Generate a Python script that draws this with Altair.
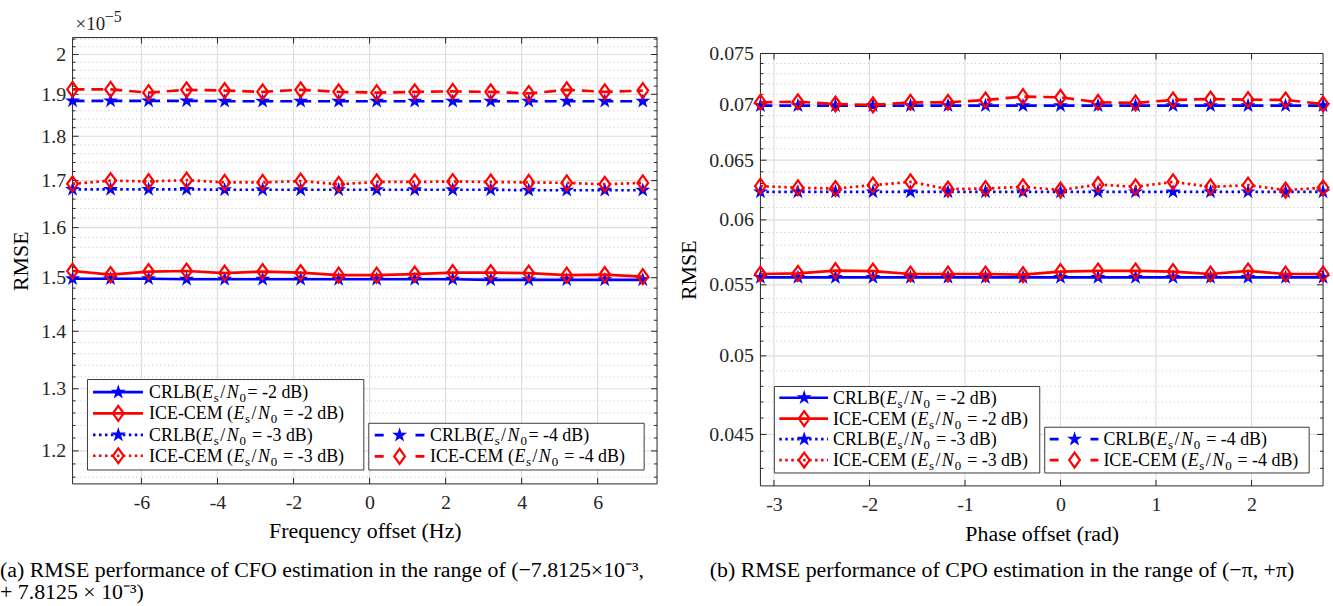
import altair as alt
import pandas as pd

FONT = "Liberation Serif"
INK = "#262626"
BLUE = "#0000ff"
RED = "#ff0000"

# ---------------- data ----------------
freq_offset = [-7.8125, -6.8125, -5.8125, -4.8125, -3.8125, -2.8125, -1.8125, -0.8125,
               0.1875, 1.1875, 2.1875, 3.1875, 4.1875, 5.1875, 6.1875, 7.1875]
phase_offset = [-3.1416, -2.7489, -2.3562, -1.9635, -1.5708, -1.1781, -0.7854, -0.3927,
                0.0, 0.3927, 0.7854, 1.1781, 1.5708, 1.9635, 2.3562, 2.7489]

# CFO estimation RMSE, in units of 1e-5
cfo_crlb_m2 = [1.498, 1.498, 1.498, 1.497, 1.497, 1.497, 1.497, 1.497,
               1.497, 1.497, 1.497, 1.496, 1.496, 1.496, 1.496, 1.496]
cfo_ice_m2 = [1.513, 1.506, 1.512, 1.513, 1.509, 1.512, 1.510, 1.505,
              1.505, 1.507, 1.510, 1.510, 1.509, 1.505, 1.506, 1.502]
cfo_crlb_m3 = [1.681, 1.681, 1.681, 1.681, 1.680, 1.680, 1.680, 1.680,
               1.680, 1.680, 1.680, 1.680, 1.679, 1.679, 1.679, 1.679]
cfo_ice_m3 = [1.693, 1.700, 1.698, 1.701, 1.696, 1.696, 1.699, 1.692,
              1.697, 1.697, 1.698, 1.697, 1.696, 1.695, 1.692, 1.695]
cfo_crlb_m4 = [1.884, 1.884, 1.884, 1.884, 1.883, 1.883, 1.883, 1.883,
               1.883, 1.883, 1.883, 1.883, 1.883, 1.883, 1.883, 1.883]
cfo_ice_m4 = [1.912, 1.912, 1.904, 1.911, 1.909, 1.906, 1.911, 1.906,
              1.904, 1.906, 1.907, 1.906, 1.902, 1.911, 1.906, 1.909]

# CPO estimation RMSE
cpo_crlb_m2 = [0.05555, 0.05555, 0.05555, 0.05555, 0.05555, 0.05555, 0.05555, 0.05555,
               0.05555, 0.05555, 0.05555, 0.05555, 0.05555, 0.05555, 0.05555, 0.05555]
cpo_ice_m2 = [0.0558, 0.05585, 0.05605, 0.05602, 0.0558, 0.0558, 0.0558, 0.05575,
              0.05598, 0.05603, 0.05603, 0.05598, 0.0558, 0.05603, 0.0558, 0.0558]
cpo_crlb_m3 = [0.0623, 0.0623, 0.0623, 0.0623, 0.0623, 0.0623, 0.0623, 0.0623,
               0.0623, 0.0623, 0.0623, 0.0623, 0.0623, 0.0623, 0.0623, 0.0623]
cpo_ice_m3 = [0.06278, 0.06264, 0.06258, 0.06286, 0.06314, 0.06253, 0.06258, 0.06272,
              0.06245, 0.06291, 0.06272, 0.06314, 0.06272, 0.06286, 0.06245, 0.06264]
cpo_crlb_m4 = [0.06993, 0.06993, 0.06993, 0.06993, 0.06993, 0.06993, 0.06993, 0.06993,
               0.06993, 0.06993, 0.06993, 0.06993, 0.06993, 0.06993, 0.06993, 0.06993]
cpo_ice_m4 = [0.07025, 0.0703, 0.07009, 0.0700, 0.07025, 0.07025, 0.07047, 0.07078,
              0.07072, 0.07025, 0.07019, 0.07047, 0.07056, 0.0705, 0.07047, 0.07009]

# axis ticks
cfo_xticks = [-6, -4, -2, 0, 2, 4, 6]
cfo_yticks = [1.2, 1.3, 1.4, 1.5, 1.6, 1.7, 1.8, 1.9, 2.0]
cpo_xticks = [-3, -2, -1, 0, 1, 2]
cpo_yticks = [0.045, 0.05, 0.055, 0.06, 0.065, 0.07, 0.075]

# ---------------- styling ----------------
STAR = ("M0,-1L0.2245,-0.309L0.951,-0.309L0.363,0.118L0.588,0.809L0,0.382"
        "L-0.588,0.809L-0.363,0.118L-0.951,-0.309L-0.2245,-0.309Z")
DIAMOND = "M0,-1L0.72,0L0,1L-0.72,0Z"
DASH = {"solid": None, "dotted": [2.5, 3.5], "dashed": [12, 7]}
LEG_DASH = {"solid": None, "dotted": [2.5, 3.5], "dashed": [9, 32]}
STYLE_BY_LEVEL = {2: "solid", 3: "dotted", 4: "dashed"}

# Times-metric widths (1/1000 em) for legend prefixes
TIMES_W = {"C": 667, "R": 667, "L": 611, "B": 667, "(": 333, "I": 333,
           "E": 611, "-": 333, "M": 889, " ": 250}
LEG_FS = 18
SUB_FS = 13
CAP_FS = 22

ONE = pd.DataFrame({"k": [0]})


def tw(s, fs):
    return sum(TIMES_W[c] for c in s) / 1000.0 * fs


def txt(s, x, y, size, **kw):
    return alt.Chart(pd.DataFrame({"t": [s]})).mark_text(
        font=FONT, fontSize=size, color=kw.pop("color", "black"), **kw
    ).encode(x=alt.value(x), y=alt.value(y), text="t:N")


def rule_px(x, x2, y, y2=None, **kw):
    enc = dict(x=alt.value(x), x2=alt.value(x2), y=alt.value(y))
    if y2 is not None:
        enc["y2"] = alt.value(y2)
    return alt.Chart(ONE).mark_rule(**kw).encode(**enc)


def marker_kw(kind):
    if kind == "CRLB":
        return dict(shape=STAR, filled=True, color=BLUE, size=250, opacity=1,
                    strokeWidth=1)
    return dict(shape=DIAMOND, filled=False, color=RED, size=225, opacity=1,
                strokeWidth=2.2)


def line_kw(kind, style, dashes):
    kw = dict(color=BLUE if kind == "CRLB" else RED, strokeWidth=2.7, strokeCap="butt")
    if dashes[style] is not None:
        kw["strokeDash"] = dashes[style]
    return kw


def legend_entry(kind, level, tight, xl0, xl1, xm, xt, y):
    style = STYLE_BY_LEVEL[level]
    out = []
    lk = line_kw(kind, style, LEG_DASH)
    out.append(rule_px(xl0, xl1, y, **lk))
    out.append(alt.Chart(ONE).mark_point(**marker_kw(kind)).encode(
        x=alt.value(xm), y=alt.value(y)))
    prefix = "CRLB(" if kind == "CRLB" else "ICE-CEM ("
    base = y + 6
    out.append(txt(prefix, xt, base, LEG_FS, align="left", baseline="alphabetic"))
    mx = xt + tw(prefix, LEG_FS)
    out.append(txt("E", mx + 0.5, base, LEG_FS, align="left", baseline="alphabetic",
                   fontStyle="italic"))
    out.append(txt("s", mx + 12, base + 4, SUB_FS, align="left", baseline="alphabetic"))
    out.append(txt("/", mx + 18.5, base, LEG_FS, align="left", baseline="alphabetic"))
    out.append(txt("N", mx + 25, base, LEG_FS, align="left", baseline="alphabetic",
                   fontStyle="italic"))
    out.append(txt("0", mx + 38, base + 4, SUB_FS, align="left", baseline="alphabetic"))
    sx = mx + 46 + (0 if tight else 4.5)
    out.append(txt(f"= -{level} dB)", sx, base, LEG_FS, align="left", baseline="alphabetic"))
    return out


def panel(xvals, series, xdom, ydom, xticks, yticks, yminor, W, H,
          xtitle, ytitle_x, xtitle_dy, legends):
    xs = alt.Scale(domain=xdom, nice=False, zero=False)
    ys = alt.Scale(type="log", domain=ydom, nice=False)
    common = dict(ticks=False, tickSize=0, domain=False, grid=False,
                  labelFlush=False, labelOverlap=False,
                  labelFont=FONT, labelFontSize=20, labelColor=INK,
                  titleFont=FONT, titleFontSize=22, titleFontWeight="normal",
                  titleColor="black", titleAlign="center", titleBaseline="middle")
    xaxis = alt.Axis(values=xticks, title=xtitle, labelPadding=9,
                     labelExpr="(datum.value < 0 ? '-' : '') + format(abs(datum.value), '~g')",
                     titleX=W / 2, titleY=xtitle_dy, **common)
    yaxis = alt.Axis(values=yticks, title="RMSE", labelPadding=7, format="~g",
                     titleX=ytitle_x, titleY=H / 2, titleAngle=270, **common)
    Y = lambda: alt.Y("y:Q", scale=ys, axis=yaxis)
    X = lambda: alt.X("x:Q", scale=xs, axis=xaxis)

    ymaj = pd.DataFrame({"y": yticks})
    ymin = pd.DataFrame({"y": yminor})
    xmaj = pd.DataFrame({"x": xticks})

    layers = [
        # grid
        alt.Chart(ymin).mark_rule(color="#c4c4c4", strokeWidth=1, strokeDash=[1, 3]).encode(
            y=Y(), x=alt.value(0), x2=alt.value(W)),
        alt.Chart(ymaj).mark_rule(color="#dedede", strokeWidth=1.2).encode(
            y=Y(), x=alt.value(0), x2=alt.value(W)),
        alt.Chart(xmaj).mark_rule(color="#dedede", strokeWidth=1.2).encode(
            x=X(), y=alt.value(0), y2=alt.value(H)),
        # axes box
        alt.Chart(ONE).mark_rect(fill="transparent", stroke=INK, strokeWidth=1).encode(
            x=alt.value(0), x2=alt.value(W), y=alt.value(0), y2=alt.value(H)),
        # inward ticks on all four sides
        alt.Chart(ymaj).mark_rule(color=INK, strokeWidth=1).encode(
            y=Y(), x=alt.value(0), x2=alt.value(6)),
        alt.Chart(ymaj).mark_rule(color=INK, strokeWidth=1).encode(
            y=Y(), x=alt.value(W - 6), x2=alt.value(W)),
        alt.Chart(ymin).mark_rule(color=INK, strokeWidth=1).encode(
            y=Y(), x=alt.value(0), x2=alt.value(3)),
        alt.Chart(ymin).mark_rule(color=INK, strokeWidth=1).encode(
            y=Y(), x=alt.value(W - 3), x2=alt.value(W)),
        alt.Chart(xmaj).mark_rule(color=INK, strokeWidth=1).encode(
            x=X(), y=alt.value(H - 6), y2=alt.value(H)),
        alt.Chart(xmaj).mark_rule(color=INK, strokeWidth=1).encode(
            x=X(), y=alt.value(0), y2=alt.value(6)),
    ]

    for kind, level, vals in series:
        df = pd.DataFrame({"x": xvals, "y": vals})
        style = STYLE_BY_LEVEL[level]
        layers.append(alt.Chart(df).mark_line(**line_kw(kind, style, DASH)).encode(x=X(), y=Y()))
        layers.append(alt.Chart(df).mark_point(**marker_kw(kind)).encode(x=X(), y=Y()))

    for (bx0, bx1, by0, by1, xl0, xl1, xm, xt, entries) in legends:
        layers.append(alt.Chart(ONE).mark_rect(fill="white", stroke=INK, strokeWidth=0.9).encode(
            x=alt.value(bx0), x2=alt.value(bx1), y=alt.value(by0), y2=alt.value(by1)))
        for (kind, level, tight, y) in entries:
            layers.extend(legend_entry(kind, level, tight, xl0, xl1, xm, xt, y))
    return layers


cfo_minor = [round(1.16 + 0.02 * i, 2) for i in range(45)]
cfo_minor = [v for v in cfo_minor if abs(v * 10 - round(v * 10)) > 1e-6]
cpo_minor = [round(0.043 + 0.001 * i, 3) for i in range(32)]
cpo_minor = [v for v in cpo_minor if abs(v * 200 - round(v * 200)) > 1e-6]

WL, HL = 588, 449
WR, HR = 566, 435

left_layers = panel(
    freq_offset,
    [("CRLB", 2, cfo_crlb_m2), ("ICE", 2, cfo_ice_m2),
     ("CRLB", 3, cfo_crlb_m3), ("ICE", 3, cfo_ice_m3),
     ("CRLB", 4, cfo_crlb_m4), ("ICE", 4, cfo_ice_m4)],
    [-7.8125, 7.5625], [1.150, 2.044], cfo_xticks, cfo_yticks, cfo_minor, WL, HL,
    "Frequency offset (Hz)", -52.6, 46.7,
    [
        (15, 293, 344, 435, 20.6, 70.8, 46, 77,
         [("CRLB", 2, True, 356.7), ("ICE", 2, False, 378),
          ("CRLB", 3, False, 399.7), ("ICE", 3, False, 420.7)]),
        (298, 575, 388, 435, 304, 354, 329, 359.6,
         [("CRLB", 4, True, 400), ("ICE", 4, False, 421.3)]),
    ],
)
left_layers += [
    txt("\u00d710", 3, -8, 19, align="left", baseline="alphabetic", color=INK),
    txt("\u22125", 32.5, -16, 16, align="left", baseline="alphabetic", color=INK),
    txt("(a) RMSE performance of CFO estimation in the range of (\u22127.8125\u00d710\u207b\u00b3,",
        -73, 535.5, CAP_FS, align="left", baseline="middle"),
    txt("+ 7.8125 \u00d7 10\u207b\u00b3)", -73, 558, CAP_FS, align="left", baseline="middle"),
]

right_layers = panel(
    phase_offset,
    [("CRLB", 2, cpo_crlb_m2), ("ICE", 2, cpo_ice_m2),
     ("CRLB", 3, cpo_crlb_m3), ("ICE", 3, cpo_ice_m3),
     ("CRLB", 4, cpo_crlb_m4), ("ICE", 4, cpo_ice_m4)],
    [-3.1416, 2.7489], [0.042, 0.075], cpo_xticks, cpo_yticks, cpo_minor, WR, HR,
    "Phase offset (rad)", -72.5, 48,
    [
        (14, 281, 335, 422, 19, 68, 44, 73,
         [("CRLB", 2, False, 346.3), ("ICE", 2, False, 367.3),
          ("CRLB", 3, False, 388), ("ICE", 3, False, 409)]),
        (286, 552, 376, 422, 291, 340, 316, 345,
         [("CRLB", 4, False, 388), ("ICE", 4, False, 409)]),
    ],
)
right_layers += [
    txt("(b) RMSE performance of CPO estimation in the range of (\u2212\u03c0, +\u03c0)",
        243, 520, CAP_FS, align="center", baseline="middle"),
]

left = alt.layer(*left_layers).properties(width=WL, height=HL)
right = alt.layer(*right_layers).properties(width=WR, height=HR)
spacer = alt.Chart(ONE).mark_point(opacity=0).encode(
    x=alt.value(0), y=alt.value(0)).properties(width=WR, height=16)

chart = alt.hconcat(
    left,
    alt.vconcat(spacer, right, spacing=0, bounds="flush"),
    spacing=104, bounds="flush",
).properties(
    padding={"left": 0, "top": 7, "right": 0, "bottom": 0},
    background="white",
).configure(
    font=FONT,
    style={"guide-label": {"font": FONT}, "guide-title": {"font": FONT}},
).configure_view(
    strokeWidth=0
).configure_axis(
    labelFont=FONT, labelFontSize=20, labelColor=INK,
    titleFont=FONT, titleFontSize=22, titleFontWeight="normal", titleColor="black",
)

chart.save("out.html", embed_options={"renderer": "svg", "actions": False})
